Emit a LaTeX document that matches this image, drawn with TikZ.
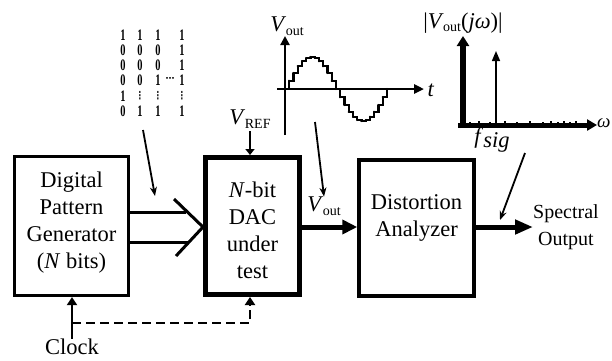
\documentclass[tikz,border=0pt]{standalone}
\usepackage{fontspec}
\setmainfont{Liberation Serif}
\newfontfamily\dejavu{DejaVu Sans}
\usetikzlibrary{arrows.meta,calc}
\newcommand\subtxt[2]{\textit{#1}\kern-0.5pt\raisebox{-0.35ex}{\fontsize{14}{14}\selectfont #2}}
\newcommand\smvdots{{\dejavu\bfseries\fontsize{11}{11}\selectfont ⋮}}
\begin{document}
\begin{tikzpicture}[x=1pt,y=-1pt,
  blk/.style={draw, rectangle, inner sep=0pt},
  lbl/.style={inner sep=0pt, font=\fontsize{22.5}{27}\selectfont, align=center},
  bit/.style={inner sep=0pt, font=\bfseries\fontsize{16}{16}\selectfont},
  thinarrow/.style={line width=1.8pt, -{Stealth[length=9pt,width=7pt]}},
]
\useasboundingbox (0,0) rectangle (612,360);

% blocks
\node[blk, line width=3.2pt, minimum width=114pt, minimum height=139pt] (gen) at (71.5,226) {};
\node[lbl] (gentext) at (71.5,223) {Digital\\Pattern\\Generator\\(\textit{N} bits)};
\node[blk, line width=5pt, minimum width=94pt, minimum height=137pt] (dac) at (252.5,226) {};
\node[lbl] (dactext) at (252.5,230) {\textit{N}-bit\\DAC\\under\\test};
\node[blk, line width=3.5pt, minimum width=115pt, minimum height=136pt] (da) at (416.5,228) {};
\node[lbl] (datext) at (416.5,218) {Distortion\\Analyzer};
\node[lbl, font=\fontsize{20}{27}\selectfont] (spec) at (566,227) {Spectral\\Output};
\node[lbl] (clock) at (72,347) {Clock};
\node[lbl] (vref) at (250,119) {\subtxt{V}{REF}};
\node[lbl] (voutlbl) at (324,206) {\subtxt{V}{out}};

% bus into DAC
\draw[line width=3pt] (gen.east |- 0,212) -- (186,212);
\draw[line width=3pt] (gen.east |- 0,242) -- (189,242);
\draw[line width=3pt] (174,199) -- (dac.west |- 0,227) -- (176,256);

% output arrows
\coordinate (specend) at (533,227);
\draw[line width=5pt, -{Triangle[length=15pt,width=14pt]}] (dac.east |- 0,227) -- (da.west |- 0,227);
\draw[line width=5pt, -{Triangle[length=18pt,width=14pt]}] (da.east |- 0,227) -- (specend);

% reference and clock
\draw[line width=1.8pt, -{Triangle[length=6pt,width=9pt]}] (vref.south |- 0,131) -- (dac.north -| vref.south);
\coordinate (clk) at (72,323);
\draw[line width=2pt, -{Triangle[length=8pt,width=10pt]}] (clock.north) -- (gen.south -| clock.north);
\draw[line width=2pt, dashed, dash pattern=on 9pt off 5pt, -{Triangle[length=8pt,width=10pt]}] (clk) -| (dac.south -| vref.south);

% bit pattern
\foreach \n/\px/\py/\t in {
  a1/123/35/1, a2/123/50/0, a3/123/65/0, a4/123/80/0, a5/123/96/1, a6/123/111/0,
  b1/140/35/1, b2/140/50/0, b3/140/65/0, b4/140/80/0, b5/140/96/\smvdots, b6/140/111/1,
  c1/158/35/1, c2/158/50/0, c3/158/65/0, c4/158/80/1, c5/158/96/\smvdots, c6/158/111/1,
  d1/182/35/1, d2/182/50/1, d3/182/65/1, d4/182/80/1, d5/182/96/\smvdots, d6/182/111/1}
  {\node[bit] (bit\n) at (\px,\py) {\scalebox{0.65}[1]{\t}};}
\node[bit] (bitdots) at (170,80) {\dejavu\fontsize{9}{9}\selectfont ⋯};
\coordinate (bitsarrow) at (143,130);
\coordinate (busarrow) at (155,196);
\draw[thinarrow] (bitsarrow) -- (busarrow);

% time plot
\coordinate (tytop) at (285,36);
\coordinate (tybot) at (285,135);
\coordinate (txl) at (277,89);
\coordinate (txr) at (424,89);
\draw[line width=2.5pt, -{Triangle[length=9pt,width=9pt]}] (tybot) -- (tytop);
\draw[line width=2.5pt, -{Triangle[length=10pt,width=9pt]}] (txl) -- (txr);
\foreach \i in {0,...,23}{
  \pgfmathsetmacro\xa{285+\i*4.25}
  \pgfmathsetmacro\xb{285+(\i+1)*4.25}
  \pgfmathsetmacro\ya{89-32*sin(15*\i)}
  \pgfmathsetmacro\yb{89-32*sin(15*(\i+1))}
  \draw[line width=2.2pt, line cap=round] (\xa,\ya) -- (\xb,\ya) -- (\xb,\yb);
}
\draw[line width=2.2pt] (387,89) -- (387,96);
\node[lbl] (tvout) at (287,26) {\subtxt{V}{out}};
\node[lbl] (tlab) at (431,90) {\textit{t}};
\coordinate (sinearrow) at (315,122);
\draw[thinarrow] (sinearrow) -- (voutlbl.north);

% spectrum plot
\draw[line width=5.5pt, -{Triangle[length=10pt,width=12pt]}] (463,128) -- (463,36);
\draw[line width=5pt, -{Triangle[length=10pt,width=11pt]}] (458,125) -- (597,125);
\draw[line width=1.5pt, -{Triangle[length=10pt,width=8pt]}] (496,125) -- (496,51);
\foreach \xx/\hh in {470/3, 479/4, 490/3, 505/4, 517/3, 530/4, 543/3, 551/4, 558/3, 564/4, 570/3, 576/4}
  {\draw[line width=1.5pt] (\xx,125) -- (\xx,125-\hh);}
\node[lbl] (slab) at (463,23) {|\subtxt{V}{out}(\textit{j}\textit{ω})|};
\node[lbl] (fsig) at (492,140) {\textit{f}\raisebox{-0.3ex}{\textit{sig}}};
\node[lbl, anchor=west, font=\fontsize{19}{19}\selectfont] (wlab) at (597,123) {\textit{ω}};
\coordinate (specarrow) at (525,153);
\draw[thinarrow] (specarrow) -- (500,220);
\end{tikzpicture}
\end{document}
